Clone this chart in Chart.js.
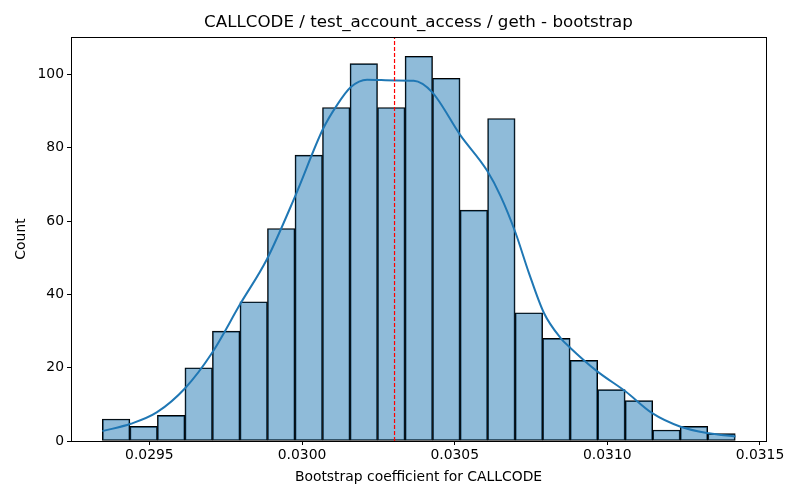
<html>
<head>
  <meta charset="utf-8"/>
  <style>
    body { margin: 0; background: #fff; }
  </style>
</head>
<body>
<canvas id="myChart" width="800" height="500"></canvas>

<script src="https://cdn.jsdelivr.net/npm/chart.js"></script>
<script>
  // histogram bins (left edge of first bin, bin width) and counts
  var binStart = 0.029346;
  var binWidth = 0.00009013;
  var counts = [6, 4, 7, 20, 30, 38, 58, 78, 91, 103, 91, 105, 99, 63, 88, 35, 28, 22, 14, 11, 3, 4, 2];

  // kde curve
  var kdeX = [0.029346, 0.029439, 0.029524, 0.029617, 0.029705, 0.029797, 0.029885, 0.029978,
              0.030069, 0.030114, 0.030160, 0.030213, 0.030303, 0.030366, 0.030426, 0.030519,
              0.030606, 0.030650, 0.030699, 0.030743, 0.030792, 0.030847, 0.030879, 0.030967,
              0.031060, 0.031147, 0.031240, 0.031333, 0.031420];
  var kdeY = [2.7, 4.7, 7.8, 14.4, 24.0, 37.3, 49.6, 66.9,
              85.2, 91.6, 96.6, 98.6, 98.4, 98.3, 95.2, 83.4,
              73.8, 66.9, 56.9, 45.9, 35.0, 28.1, 25.4, 19.0,
              13.5, 7.6, 3.9, 2.1, 1.2];

  var meanValue = 0.030303;
  var xTicks = [0.0295, 0.0300, 0.0305, 0.0310, 0.0315];
  var yTicks = [0, 20, 40, 60, 80, 100];
  var titleText = "CALLCODE / test_account_access / geth - bootstrap";

  var xMin = 0.0292433, xMax = 0.0315197;
  var yMax = 110.25;

  var barData = counts.map(function (c, i) {
    return { x: binStart + binWidth * (i + 0.5), y: c };
  });
  var kdeData = kdeX.map(function (x, i) { return { x: x, y: kdeY[i] }; });

  // box round the plot and the title centred over the plot area
  var frame = {
    id: "frame",
    afterDraw: function (chart) {
      var a = chart.chartArea, c = chart.ctx;
      c.save();
      c.strokeStyle = "#000";
      c.lineWidth = 1;
      c.strokeRect(Math.round(a.left) + 0.5, Math.round(a.top) + 0.5,
                   Math.round(a.right - a.left), Math.round(a.bottom - a.top));
      c.fillStyle = "#000";
      c.font = "16.7px 'DejaVu Sans'";
      c.textAlign = "center";
      c.textBaseline = "middle";
      c.fillText(titleText, (a.left + a.right) / 2, 23);
      c.restore();
    }
  };

  var font = { family: "DejaVu Sans", size: 13.9 };

  var ctx = document.getElementById("myChart");
  var myChart = new Chart(ctx, {
    type: "bar",
    data: {
      datasets: [
        {
          type: "line",
          data: [{ x: meanValue, y: 0 }, { x: meanValue, y: yMax }],
          borderColor: "red",
          borderWidth: 1.2,
          borderDash: [4, 2],
          pointRadius: 0,
          order: 0,
        },
        {
          type: "line",
          data: kdeData,
          borderColor: "#1f77b4",
          borderWidth: 2,
          pointRadius: 0,
          cubicInterpolationMode: "monotone",
          order: 1,
        },
        {
          type: "bar",
          data: barData,
          backgroundColor: "rgba(31, 119, 180, 0.5)",
          borderColor: "#000",
          borderWidth: 1,
          borderSkipped: false,
          barPercentage: 1,
          categoryPercentage: 1,
          order: 2,
        },
      ],
    },
    options: {
      responsive: false,
      animation: false,
      devicePixelRatio: 1,
      layout: { padding: { top: 37, right: 34 } },
      plugins: {
        legend: { display: false },
        tooltip: { enabled: false },
        title: { display: false },
      },
      scales: {
        x: {
          type: "linear",
          min: xMin,
          max: xMax,
          offset: false,
          afterFit: function (s) { s.height = 59; },
          afterBuildTicks: function (s) { s.ticks = xTicks.map(function (v) { return { value: v }; }); },
          grid: { offset: false, drawOnChartArea: false, drawTicks: true, tickLength: 4, color: "#000" },
          border: { display: true, color: "#000" },
          ticks: {
            color: "#000",
            font: font,
            padding: 2,
            maxRotation: 0,
            callback: function (v) { return v.toFixed(4); },
          },
          title: {
            display: true,
            text: "Bootstrap coefficient for CALLCODE",
            color: "#000",
            font: font,
            padding: { top: 0, bottom: 14 },
          },
        },
        y: {
          min: 0,
          max: yMax,
          afterFit: function (s) { s.width = 71; },
          afterBuildTicks: function (s) { s.ticks = yTicks.map(function (v) { return { value: v }; }); },
          grid: { offset: false, drawOnChartArea: false, drawTicks: true, tickLength: 4, color: "#000" },
          border: { display: true, color: "#000" },
          ticks: { color: "#000", font: font, padding: 3 },
          title: {
            display: true,
            text: "Count",
            color: "#000",
            font: font,
            padding: { top: 13, bottom: 0 },
          },
        },
      },
    },
    plugins: [frame],
  });
</script>
</body>
</html>
